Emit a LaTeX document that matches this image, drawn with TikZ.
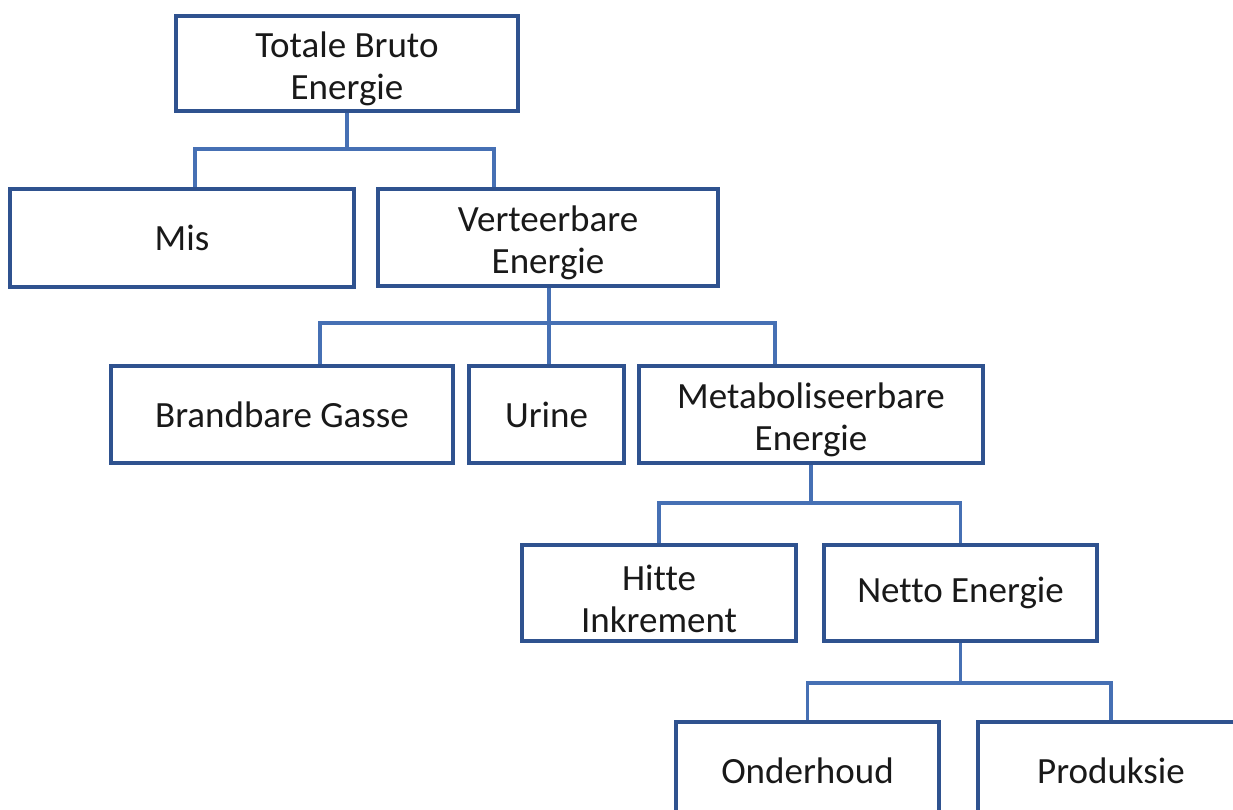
\documentclass[tikz,border=0pt]{standalone}
\usepackage{fontspec}
\setmainfont[Ligatures=NoCommon]{Carlito}
\definecolor{boxblue}{RGB}{47,82,143}
\definecolor{connblue}{RGB}{70,112,180}
\definecolor{txt}{RGB}{25,25,25}
\newcommand\mystrut{\rule{0pt}{37pt}}
\begin{document}
\begin{tikzpicture}[x=1pt,y=-1pt,
  box/.style={draw=boxblue, line width=4pt, fill=white, inner sep=0pt, align=center,
    text=txt, font=\fontsize{37pt}{42pt}\selectfont},
  conn/.style={draw=connblue, line width=3.2pt}]
\useasboundingbox (0,0) rectangle (1233,809);
\clip (0,0) rectangle (1233,809);
\fill[white] (0,0) rectangle (1233,809);
% boxes
\node[box, minimum width=342pt, minimum height=95pt] (tbe) at (347,63.5) {\mystrut Totale Bruto\\Energie};
\node[box, minimum width=344pt, minimum height=98pt] (mis) at (182,238) {Mis};
\node[box, minimum width=340pt, minimum height=97pt] (ver) at (548,237.5) {\mystrut Verteerbare\\Energie};
\node[box, minimum width=342pt, minimum height=97pt] (bra) at (282,414.5) {Brandbare Gasse};
\node[box, minimum width=155pt, minimum height=97pt] (uri) at (546.5,414.5) {Urine};
\node[box, minimum width=344pt, minimum height=97pt] (met) at (811,414.5) {\mystrut Metaboliseerbare\\Energie};
\node[box, minimum width=274pt, minimum height=96pt] (hit) at (659,593) {\mystrut Hitte\\Inkrement};
\node[box, minimum width=273pt, minimum height=96pt] (net) at (960.5,593) {Netto Energie};
\node[box, minimum width=263pt, minimum height=98pt] (ond) at (807.5,771) {Onderhoud};
\node[box, minimum width=266pt, minimum height=98pt] (pro) at (1111,771) {Produksie};
% connector level 1
\coordinate (h1l) at (195,149);
\coordinate (h1r) at (494,149);
\draw[conn] (tbe.south) -- (tbe.south |- h1l);
\draw[conn] (mis.north -| h1l) -- (h1l) -- (h1r) -- (ver.north -| h1r);
% connector level 2
\coordinate (h2l) at (320,323);
\coordinate (h2m) at (549,323);
\coordinate (h2r) at (775,323);
\draw[conn] (ver.south -| h2m) -- (h2m);
\draw[conn] (bra.north -| h2l) -- (h2l) -- (h2r) -- (met.north -| h2r);
\draw[conn] (h2m) -- (uri.north -| h2m);
% connector level 3
\coordinate (h3l) at (659,503);
\coordinate (h3r) at (960.5,503);
\draw[conn] (met.south) -- (met.south |- h3l);
\draw[conn] (hit.north) -- (h3l) -- (h3r) -- (net.north);
% connector level 4
\coordinate (h4l) at (807.5,683);
\coordinate (h4r) at (1111,683);
\draw[conn] (net.south) -- (net.south |- h4l);
\draw[conn] (ond.north) -- (h4l) -- (h4r) -- (pro.north);
\end{tikzpicture}
\end{document}
